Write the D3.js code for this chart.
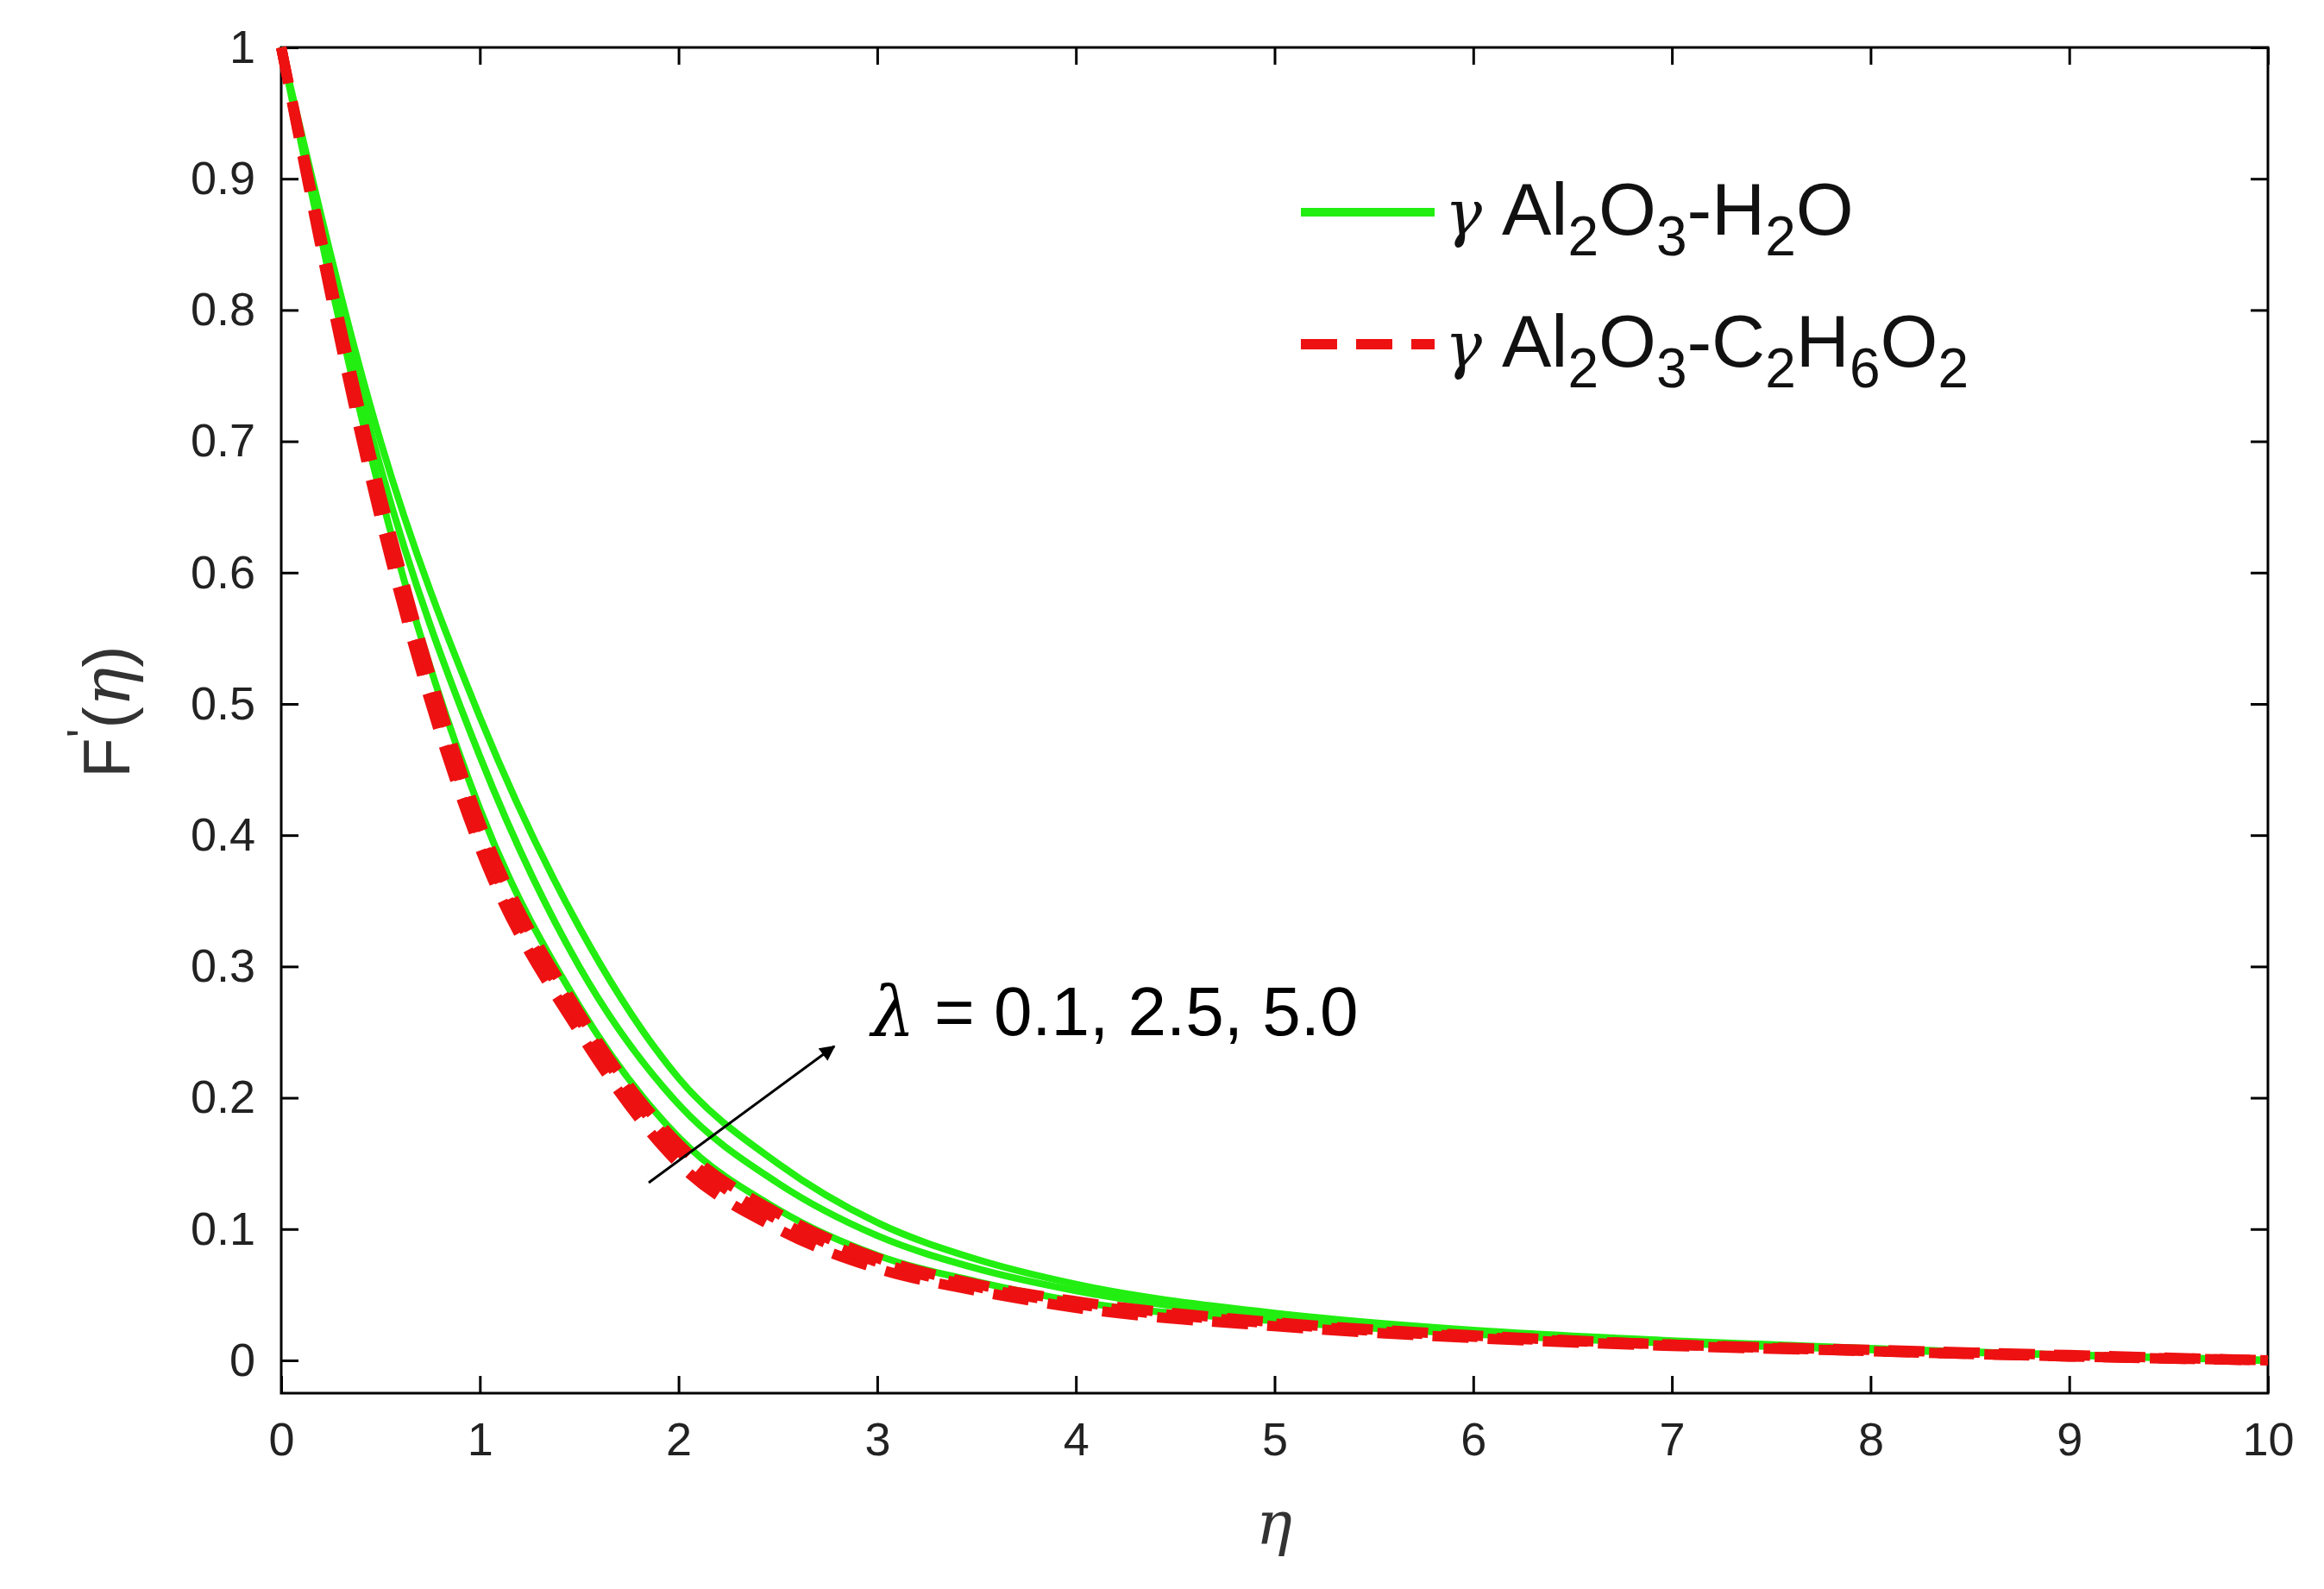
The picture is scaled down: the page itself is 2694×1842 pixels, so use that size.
<!DOCTYPE html>
<html><head><meta charset="utf-8">
<script src="https://cdn.jsdelivr.net/npm/d3@7"></script>
<style>body{margin:0;background:#fff}</style>
</head><body>
<svg id="chart" width="2694" height="1842"></svg>
<script>
const eta = [0,0.5,1,1.5,2,2.5,3,3.5,4,5,6,7,8,9,10];
const green = [
  [1,0.66,0.42,0.27,0.17,0.115,0.08,0.06,0.045,0.03,0.02,0.013,0.008,0.004,0],
  [1,0.68,0.46,0.30,0.195,0.135,0.095,0.07,0.053,0.033,0.022,0.014,0.009,0.004,0],
  [1,0.70,0.49,0.33,0.215,0.15,0.105,0.077,0.058,0.036,0.023,0.015,0.009,0.004,0]
];
const red = [
  [1,0.64,0.39,0.25,0.15,0.10,0.07,0.053,0.04,0.026,0.017,0.011,0.007,0.003,0],
  [1,0.65,0.40,0.26,0.16,0.107,0.075,0.056,0.043,0.028,0.018,0.012,0.007,0.003,0],
  [1,0.66,0.41,0.265,0.165,0.112,0.078,0.058,0.045,0.029,0.019,0.012,0.008,0.004,0]
];
const xTicks = [0,1,2,3,4,5,6,7,8,9,10];
const yTicks = [0,0.1,0.2,0.3,0.4,0.5,0.6,0.7,0.8,0.9,1];

const L = 326, R = 2629, T = 55, B = 1615;
const svg = d3.select("#chart");
const x = d3.scaleLinear().domain([0,10]).range([L,R]);
const y = d3.scaleLinear().domain([-0.025,1]).range([B,T]);

svg.append("rect").attr("x",L).attr("y",T).attr("width",R-L).attr("height",B-T)
  .attr("fill","none").attr("stroke","#000").attr("stroke-width",3);

const font = "Liberation Sans, Arial, sans-serif";
const ax = (g) => g.selectAll("text").attr("font-family",font).attr("font-size",54).attr("fill","#222");

svg.append("g").attr("transform",`translate(0,${B})`)
  .call(d3.axisBottom(x).tickValues(xTicks).tickSize(-20).tickPadding(34).tickFormat(d3.format("d")))
  .call(g=>g.select(".domain").remove()).call(ax).selectAll("line").attr("stroke-width",3);
svg.append("g").attr("transform",`translate(0,${T})`)
  .call(d3.axisTop(x).tickValues(xTicks).tickSize(-20).tickFormat(""))
  .call(g=>g.select(".domain").remove()).selectAll("line").attr("stroke-width",3);
svg.append("g").attr("transform",`translate(${L},0)`)
  .call(d3.axisLeft(y).tickValues(yTicks).tickSize(-20).tickPadding(30).tickFormat(d=>d===0?"0":d===1?"1":d3.format(".1f")(d)))
  .call(g=>g.select(".domain").remove()).call(ax).selectAll("line").attr("stroke-width",3);
svg.append("g").attr("transform",`translate(${R},0)`)
  .call(d3.axisRight(y).tickValues(yTicks).tickSize(-20).tickFormat(""))
  .call(g=>g.select(".domain").remove()).selectAll("line").attr("stroke-width",3);

const line = d3.line().x((d,i)=>x(eta[i])).y(d=>y(d)).curve(d3.curveMonotoneX);
const plot = svg.append("g");
green.forEach(s=>plot.append("path").attr("d",line(s)).attr("fill","none")
  .attr("stroke","#22ee11").attr("stroke-width",8));
red.forEach(s=>plot.append("path").attr("d",line(s)).attr("fill","none")
  .attr("stroke","#ee1111").attr("stroke-width",12).attr("stroke-dasharray","42,22"));

// legend
svg.append("line").attr("x1",1508).attr("x2",1663).attr("y1",246).attr("y2",246)
  .attr("stroke","#22ee11").attr("stroke-width",10);
svg.append("line").attr("x1",1508).attr("x2",1663).attr("y1",399).attr("y2",399)
  .attr("stroke","#ee1111").attr("stroke-width",12).attr("stroke-dasharray","42,22");
function legend(yb, items){
  const t = svg.append("text").attr("x",1675).attr("y",yb).attr("font-family",font).attr("font-size",86).attr("fill","#111");
  t.append("tspan").text("γ ").attr("font-family","DejaVu Serif").attr("font-style","italic").attr("font-size",72);
  let down=false;
  items.forEach(([s,sub])=>{
    const ts=t.append("tspan").text(s);
    if(sub){ts.attr("font-size",64); if(!down){ts.attr("dy",24);down=true;}}
    else if(down){ts.attr("dy",-24);down=false;}
  });
}
legend(272,[["Al"],["2",1],["O"],["3",1],["-H"],["2",1],["O"]]);
legend(425,[["Al"],["2",1],["O"],["3",1],["-C"],["2",1],["H"],["6",1],["O"],["2",1]]);

// annotation arrow
svg.append("defs").append("marker").attr("id","ah").attr("viewBox","0 0 10 10").attr("refX",9).attr("refY",5)
  .attr("markerWidth",6).attr("markerHeight",6).attr("orient","auto")
  .append("path").attr("d","M0,0L10,5L0,10z").attr("fill","#000");
svg.append("line").attr("x1",752).attr("y1",1371).attr("x2",967).attr("y2",1213)
  .attr("stroke","#000").attr("stroke-width",3).attr("marker-end","url(#ah)");
const lam = svg.append("text").attr("x",1010).attr("y",1200).attr("font-family",font).attr("font-size",80).attr("fill","#000");
lam.append("tspan").text("λ").attr("font-family","DejaVu Serif").attr("font-style","italic");
lam.append("tspan").text(" = 0.1, 2.5, 5.0");

// axis labels
svg.append("text").attr("x",1477).attr("y",1790).attr("text-anchor","middle")
  .attr("font-family","DejaVu Serif").attr("font-style","italic").attr("font-size",70).attr("fill","#333").text("η");
const yl = svg.append("text").attr("transform","translate(150,825) rotate(-90)").attr("text-anchor","middle")
  .attr("font-family",font).attr("font-size",76).attr("fill","#333");
yl.append("tspan").text("F");
yl.append("tspan").text("'").attr("font-size",56).attr("dy",-34);
yl.append("tspan").text("(").attr("dy",34);
yl.append("tspan").text("η").attr("font-family","DejaVu Serif").attr("font-style","italic");
yl.append("tspan").text(")");
</script>
</body></html>
